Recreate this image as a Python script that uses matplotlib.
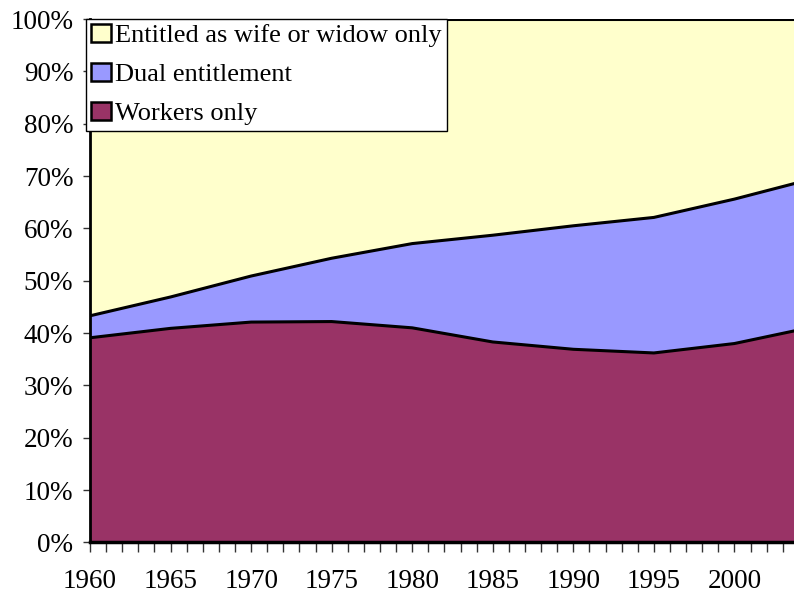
import matplotlib.pyplot as plt
import numpy as np
from matplotlib.patches import Patch

plt.rcParams['font.family'] = ['Liberation Serif', 'DejaVu Serif']

years = [1960, 1965, 1970, 1975, 1980, 1985, 1990, 1995, 2000, 2004]
# shares in percent
workers_only = [39.1, 40.9, 42.1, 42.2, 41.0, 38.3, 36.9, 36.2, 38.0, 40.6]
dual = [4.2, 6.0, 8.8, 12.1, 16.1, 20.4, 23.6, 25.9, 27.6, 28.2]
wife_widow = [56.7, 53.1, 49.1, 45.7, 42.9, 41.3, 39.5, 37.9, 34.4, 31.2]

labels = ['Workers only', 'Dual entitlement', 'Entitled as wife or widow only']
colors = ['#993366', '#9999FF', '#FFFFCC']

fig = plt.figure(figsize=(7.94, 5.97), dpi=100)
ax = fig.add_axes([0.1134, 0.0915, 0.8866, 0.8765])

x = np.array(years)
layers = [np.array(workers_only), np.array(dual), np.array(wife_widow)]
bottom = np.zeros(len(years))
for vals, col, lab in zip(layers, colors, labels):
    top = bottom + vals
    ax.fill_between(x, bottom, top, facecolor=col, edgecolor='none')
    ax.plot(x, top, color='black', lw=2.2, solid_joinstyle='round')
    bottom = top

ax.set_xlim(1960, 2003.7)
ax.set_ylim(0, 100)

ax.set_yticks(range(0, 101, 10))
ax.set_yticklabels([f'{v}%' for v in range(0, 101, 10)])
tick_years = list(range(1960, 2004))
ax.set_xticks(tick_years)
ax.set_xticklabels([str(y) if y % 5 == 0 and y <= 2000 else '' for y in tick_years])
ax.tick_params(axis='both', labelsize=19.5, direction='out', width=1, color='#333333')
ax.tick_params(axis='y', length=5, pad=7)
ax.tick_params(axis='x', length=7, pad=12)

for s in ['top', 'right']:
    ax.spines[s].set_visible(False)
ax.spines['left'].set_linewidth(2)
ax.spines['bottom'].set_linewidth(2.5)

# legend: yellow first, workers last
leg_handles = [Patch(facecolor=c, edgecolor='black', lw=1.8) for c in colors[::-1]]
leg = ax.legend(leg_handles, labels[::-1], loc='upper left', bbox_to_anchor=(-0.006, 1.0),
                fontsize=19, frameon=True, fancybox=False, framealpha=1,
                edgecolor='black', handlelength=0.75, handleheight=0.65,
                handletextpad=0.15, labelspacing=0.6, borderpad=0.2, borderaxespad=0)
leg.get_frame().set_linewidth(1)

fig.savefig('out.png', dpi=100)
